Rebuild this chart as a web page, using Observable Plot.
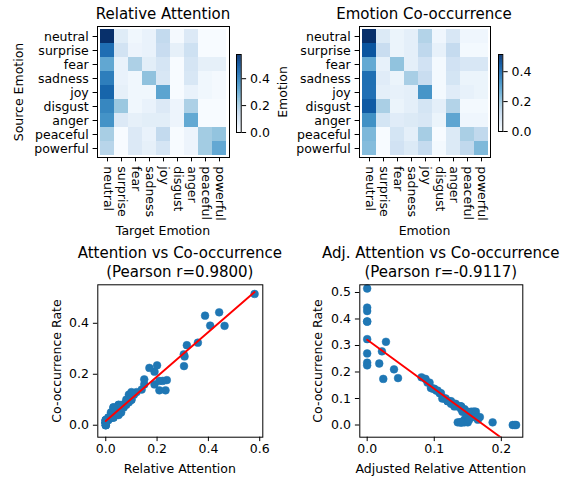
<!DOCTYPE html>
<html><head><meta charset="utf-8">
<script src="https://cdn.jsdelivr.net/npm/d3@7"></script>
<script src="https://cdn.jsdelivr.net/npm/@observablehq/plot@0.6"></script>
<style>
html,body{margin:0;padding:0;background:#fff;overflow:hidden;}
#fig{position:relative;width:568px;height:479px;overflow:hidden;font-family:"DejaVu Sans",sans-serif;color:#000;background:#fff;}
#fig > *{position:absolute;}
.txt{white-space:nowrap;line-height:1;}
</style></head><body><div id="fig"></div>
<script>
const emotions = ["neutral","surprise","fear","sadness","joy","disgust","anger","peaceful","powerful"];

// Relative attention (rows = source emotion, cols = target emotion)
const attention = [
  [0.580, 0.07, 0.02, 0.04, 0.15, 0.01, 0.08, 0.00, 0.00],
  [0.442, 0.11, 0.03, 0.04, 0.14, 0.05, 0.12, 0.00, 0.00],
  [0.307, 0.04, 0.19, 0.06, 0.10, 0.00, 0.10, 0.05, 0.05],
  [0.407, 0.04, 0.02, 0.238, 0.09, 0.00, 0.09, 0.02, 0.01],
  [0.463, 0.05, 0.02, 0.02, 0.316, 0.00, 0.04, 0.02, 0.01],
  [0.387, 0.222, 0.02, 0.04, 0.08, 0.03, 0.19, 0.00, 0.00],
  [0.359, 0.08, 0.05, 0.06, 0.06, 0.03, 0.304, 0.00, 0.00],
  [0.200, 0.00, 0.08, 0.04, 0.15, 0.00, 0.03, 0.209, 0.233],
  [0.170, 0.00, 0.08, 0.05, 0.10, 0.00, 0.03, 0.209, 0.305]
];

// Emotion co-occurrence rate
const cooccurrence = [
  [0.515, 0.07, 0.03, 0.05, 0.16, 0.02, 0.08, 0.02, 0.02],
  [0.443, 0.12, 0.03, 0.05, 0.14, 0.04, 0.13, 0.01, 0.01],
  [0.270, 0.04, 0.21, 0.05, 0.10, 0.01, 0.10, 0.08, 0.08],
  [0.391, 0.06, 0.03, 0.177, 0.12, 0.01, 0.09, 0.03, 0.03],
  [0.390, 0.05, 0.04, 0.05, 0.314, 0.01, 0.06, 0.04, 0.03],
  [0.430, 0.174, 0.03, 0.05, 0.09, 0.05, 0.16, 0.01, 0.01],
  [0.324, 0.09, 0.06, 0.07, 0.08, 0.03, 0.278, 0.02, 0.02],
  [0.235, 0.00, 0.09, 0.05, 0.18, 0.00, 0.07, 0.174, 0.137],
  [0.225, 0.00, 0.10, 0.07, 0.13, 0.01, 0.07, 0.137, 0.232]
];

// Adjusted relative attention
const adjustedAttention = [
  [0, 0.135, 0.152, 0.148, 0.090, 0.150, 0.125, 0.145, 0.148],
  [0, 0.108, 0.160, 0.155, 0.095, 0.150, 0.103, 0.140, 0.142],
  [0, 0.150, 0.040, 0.160, 0.115, 0.138, 0.117, 0.130, 0.132],
  [0, 0.140, 0.165, 0.046, 0.110, 0.135, 0.122, 0.150, 0.155],
  [0, 0.158, 0.150, 0.162, 0.028, 0.145, 0.145, 0.148, 0.168],
  [0, 0.087, 0.160, 0.145, 0.125, 0.142, 0.093, 0.140, 0.150],
  [0, 0.120, 0.142, 0.130, 0.128, 0.155, 0.022, 0.152, 0.165],
  [0, 0.217, 0.120, 0.150, 0.081, 0.222, 0.140, 0.024, 0.100],
  [0, 0.220, 0.112, 0.140, 0.105, 0.187, 0.138, 0.098, 0.018]
];

const titles = ["Relative Attention", "Emotion Co-occurrence",
  ["Attention vs Co-occurrence", "(Pearson r=0.9800)"],
  ["Adj. Attention vs Co-occurrence", "(Pearson r=-0.9117)"]];
const colorbarTicks = [0, 0.2, 0.4];
const scatter1XTicks = [0, 0.2, 0.4, 0.6];
const scatter1YTicks = [0, 0.2, 0.4];
const scatter2XTicks = [0, 0.1, 0.2];
const scatter2YTicks = [0, 0.1, 0.2, 0.3, 0.4, 0.5];

const blues = ["#f7fbff","#deebf7","#c6dbef","#9ecae1","#6baed6","#4292c6","#2171b5","#08519c","#08306b"];
const FONT = "DejaVu Sans";
const TICK = 12.5;
const fig = document.getElementById("fig");

function place(el, left, top) {
  el.style.position = "absolute";
  el.style.left = left + "px";
  el.style.top = top + "px";
  fig.appendChild(el);
}
function text(str, cx, cy, size, rotate) {
  const d = document.createElement("div");
  d.className = "txt";
  d.textContent = str;
  d.style.fontSize = size + "px";
  d.style.left = cx + "px";
  d.style.top = cy + "px";
  d.style.transform = "translate(-50%,-50%)" + (rotate ? " rotate(-90deg)" : "");
  fig.appendChild(d);
}
const baseStyle = {fontFamily: FONT, fontSize: TICK + "px", background: "transparent", color: "#000", overflow: "visible"};
function colorScale(vmax) {
  return {type: "linear", domain: blues.map((_, k) => k / 8 * vmax), range: blues, interpolate: "rgb", clamp: true};
}

function heatmap(matrix, m) {
  const data = [];
  emotions.forEach((s, i) => emotions.forEach((t, j) => data.push({s, t, v: matrix[i][j]})));
  const vmax = d3.max(data, d => d.v);
  return Plot.plot({
    width: m.width, height: m.height,
    marginLeft: m.left, marginRight: m.right, marginTop: m.top, marginBottom: m.bottom,
    style: baseStyle,
    x: {domain: emotions, padding: 0, label: null},
    y: {domain: emotions, padding: 0, label: null},
    color: colorScale(vmax),
    marks: [
      Plot.cell(data, {x: "t", y: "s", fill: "v", inset: 0, shapeRendering: "crispEdges"}),
      Plot.frame({stroke: "#000", strokeWidth: 1}),
      Plot.axisX({anchor: "bottom", tickRotate: 90, tickSize: 4.4, tickPadding: 4.4, label: null, fontSize: TICK}),
      Plot.axisY({anchor: "left", tickSize: 4.4, tickPadding: 4.4, label: null, fontSize: TICK})
    ]
  });
}

function colorbar(matrix, m) {
  const vmax = d3.max(matrix.flat());
  const step = vmax / 200;
  const stops = d3.range(0, vmax, step);
  return Plot.plot({
    width: m.width, height: m.height,
    marginLeft: m.left, marginRight: m.right, marginTop: m.top, marginBottom: m.bottom,
    style: baseStyle,
    x: {domain: [0, 1], axis: null},
    y: {domain: [0, vmax], label: null},
    color: colorScale(vmax),
    marks: [
      Plot.rect(stops, {x1: 0, x2: 1, y1: d => d, y2: d => Math.min(vmax, d + step * 1.8), fill: d => d}),
      Plot.frame({stroke: "#000", strokeWidth: 1}),
      Plot.axisY({anchor: "right", ticks: colorbarTicks, tickFormat: ".1f", tickSize: 4.4, tickPadding: 4.4, label: null, fontSize: TICK})
    ]
  });
}

function scatter(xm, ym, m, xDomain, yDomain, xTicks, yTicks) {
  const pts = [];
  xm.forEach((row, i) => row.forEach((x, j) => pts.push({x, y: ym[i][j]})));
  return Plot.plot({
    width: m.width, height: m.height,
    marginLeft: m.left, marginRight: m.right, marginTop: m.top, marginBottom: m.bottom,
    style: baseStyle,
    x: {domain: xDomain, label: null},
    y: {domain: yDomain, label: null},
    marks: [
      Plot.dot(pts, {x: "x", y: "y", r: 3.9, fill: "#1f77b4", stroke: "#1f77b4", strokeWidth: 0.5}),
      Plot.linearRegressionY(pts, {x: "x", y: "y", stroke: "red", strokeWidth: 1.9, ci: 0, clip: true}),
      Plot.frame({stroke: "#000", strokeWidth: 1}),
      Plot.axisX({ticks: xTicks, tickFormat: ".1f", tickSize: 4.4, tickPadding: 3, label: null, fontSize: TICK}),
      Plot.axisY({ticks: yTicks, tickFormat: ".1f", tickSize: 4.4, tickPadding: 4.4, label: null, fontSize: TICK})
    ]
  });
}

// Heatmaps
place(heatmap(attention, {width: 290, height: 240, left: 97, right: 61, top: 26, bottom: 83}), 0, 0);
place(heatmap(cooccurrence, {width: 288, height: 240, left: 79, right: 78, top: 26, bottom: 83}), 280, 0);
// Colorbars
place(colorbar(attention, {width: 60, height: 240, left: 10, right: 45.3, top: 54, bottom: 108}), 226, 0);
place(colorbar(cooccurrence, {width: 60, height: 240, left: 10, right: 45.7, top: 54, bottom: 109}), 488, 0);
// Scatters
place(scatter(attention, cooccurrence, {width: 284, height: 239, left: 97.3, right: 21.7, top: 44.3, bottom: 42.3},
  [-0.031, 0.612], [-0.047, 0.551], scatter1XTicks, scatter1YTicks), 0, 240);
place(scatter(adjustedAttention, cooccurrence, {width: 284, height: 239, left: 75.3, right: 45.7, top: 44.3, bottom: 42.3},
  [-0.011, 0.232], [-0.046, 0.529], scatter2XTicks, scatter2YTicks), 284, 240);

// Titles and axis labels
text(titles[0], 163, 13.5, 15);
text(titles[1], 424, 13.5, 15);
text(titles[2][0], 179.8, 252.7, 15);
text(titles[2][1], 179.8, 271.7, 15);
text(titles[3][0], 440.8, 252.7, 15);
text(titles[3][1], 440.8, 271.7, 15);
text("Source Emotion", 19.3, 92, TICK, true);
text("Target Emotion", 163, 231, TICK);
text("Emotion", 283, 92, TICK, true);
text("Emotion", 424.5, 231, TICK);
text("Co-occurrence Rate", 56.7, 360.5, TICK, true);
text("Relative Attention", 179.8, 469.3, TICK);
text("Co-occurrence Rate", 318.3, 360.5, TICK, true);
text("Adjusted Relative Attention", 440.8, 469.3, TICK);
</script></body></html>
